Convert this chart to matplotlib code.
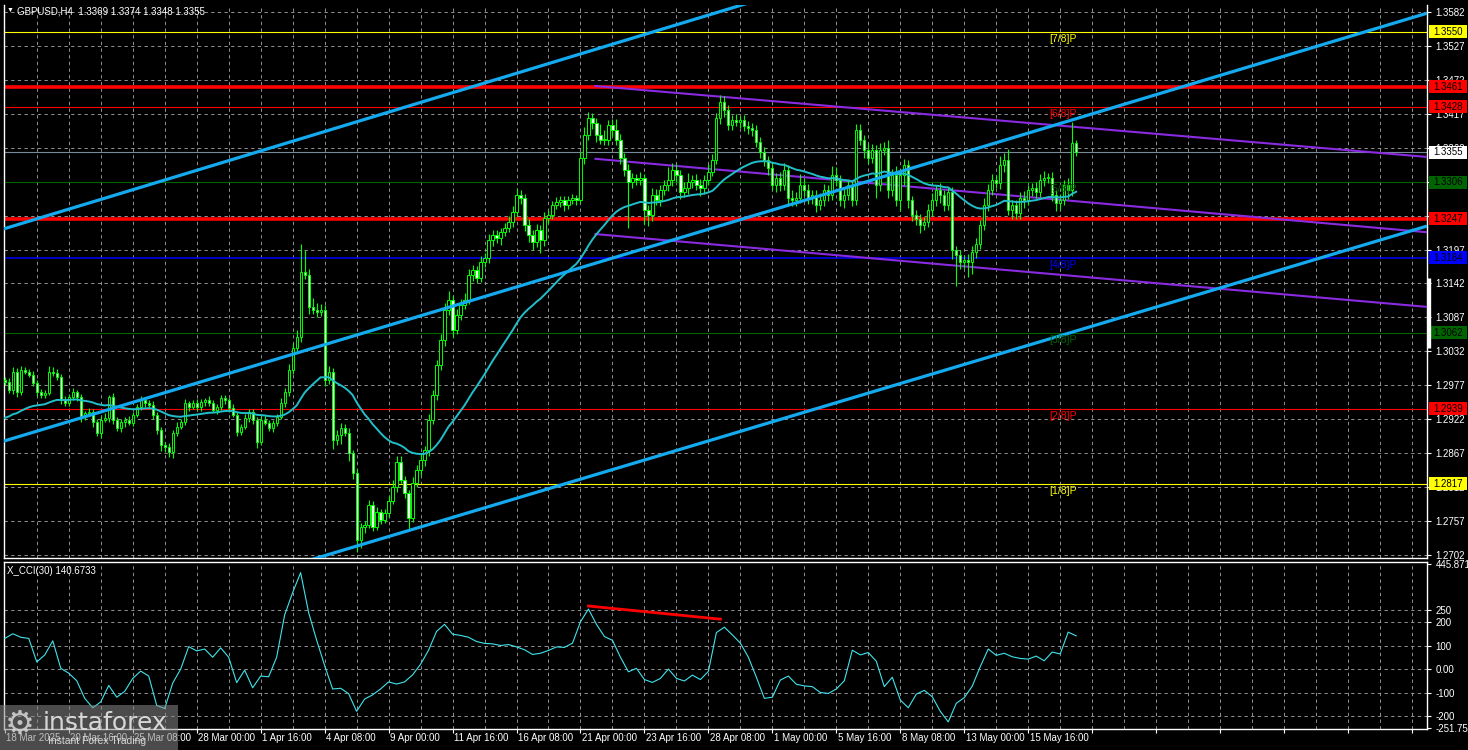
import numpy as np
import pandas as pd
import matplotlib
matplotlib.use("Agg")
import matplotlib.pyplot as plt
import matplotlib.transforms as mtransforms
from matplotlib.patches import Rectangle

plt.rcParams['font.family'] = ['Liberation Sans', 'DejaVu Sans']

# GBPUSD H4 closes, oldest first
closes = [
    1.2982, 1.2969, 1.2999, 1.2966, 1.3002, 1.2999, 1.2994, 1.2981, 1.2966, 1.2961,
    1.2965, 1.2999, 1.2997, 1.2991, 1.2953, 1.2948, 1.2958, 1.2966, 1.2958, 1.2926,
    1.2932, 1.2934, 1.2918, 1.2900, 1.2921, 1.2924, 1.2958, 1.2921, 1.2908, 1.2918,
    1.2921, 1.2916, 1.2929, 1.2942, 1.2953, 1.2948, 1.2945, 1.2929, 1.2904, 1.2880,
    1.2877, 1.2869, 1.2900, 1.2910, 1.2918, 1.2948, 1.2942, 1.2948, 1.2942, 1.2950,
    1.2953, 1.2948, 1.2937, 1.2942, 1.2956, 1.2953, 1.2940, 1.2929, 1.2901, 1.2910,
    1.2924, 1.2934, 1.2921, 1.2885, 1.2921, 1.2916, 1.2908, 1.2916, 1.2926, 1.2948,
    1.2966, 1.3002, 1.3037, 1.3055, 1.3161, 1.3156, 1.3104, 1.3099, 1.3096, 1.3099,
    1.2986, 1.2999, 1.2888, 1.2896, 1.2908, 1.2900, 1.2867, 1.2835, 1.2726, 1.2748,
    1.2751, 1.2783, 1.2748, 1.2772, 1.2759, 1.2770, 1.2790, 1.2812, 1.2853, 1.2824,
    1.2802, 1.2762, 1.2819, 1.2840, 1.2856, 1.2872, 1.2921, 1.2961, 1.3010, 1.3050,
    1.3099, 1.3115, 1.3067, 1.3091, 1.3107, 1.3115, 1.3156, 1.3164, 1.3151, 1.3177,
    1.3183, 1.3212, 1.3220, 1.3215, 1.3225, 1.3232, 1.3242, 1.3258, 1.3285, 1.3280,
    1.3237, 1.3220, 1.3209, 1.3229, 1.3212, 1.3248, 1.3253, 1.3269, 1.3274, 1.3277,
    1.3269, 1.3277, 1.3280, 1.3277, 1.3345, 1.3383, 1.3410, 1.3402, 1.3383, 1.3375,
    1.3375, 1.3399, 1.3391, 1.3375, 1.3345, 1.3326, 1.3307, 1.3313, 1.3310, 1.3313,
    1.3261, 1.3253, 1.3285, 1.3277, 1.3293, 1.3301, 1.3310, 1.3326, 1.3318, 1.3290,
    1.3296, 1.3307, 1.3310, 1.3301, 1.3296, 1.3310, 1.3323, 1.3342, 1.3410, 1.3436,
    1.3423, 1.3399, 1.3407, 1.3404, 1.3407, 1.3397, 1.3394, 1.3391, 1.3371, 1.3355,
    1.3342, 1.3329, 1.3301, 1.3313, 1.3301, 1.3326, 1.3280, 1.3277, 1.3280, 1.3301,
    1.3293, 1.3280, 1.3285, 1.3269, 1.3277, 1.3293, 1.3285, 1.3318, 1.3310, 1.3277,
    1.3285, 1.3301, 1.3277, 1.3391, 1.3375, 1.3358, 1.3345, 1.3358, 1.3301, 1.3358,
    1.3362, 1.3293, 1.3318, 1.3277, 1.3318, 1.3334, 1.3277, 1.3253, 1.3246, 1.3237,
    1.3242, 1.3261, 1.3277, 1.3293, 1.3285, 1.3269, 1.3290, 1.3196, 1.3188, 1.3177,
    1.3180, 1.3177, 1.3193, 1.3206, 1.3237, 1.3269, 1.3293, 1.3310, 1.3305, 1.3334,
    1.3342, 1.3261, 1.3269, 1.3256, 1.3280, 1.3277, 1.3293, 1.3296, 1.3290, 1.3310,
    1.3313, 1.3313, 1.3285, 1.3272, 1.3277, 1.3301, 1.3293, 1.3369, 1.3355,
]
first_open = 1.2986

# wick lengths in pips beyond the candle body
upper_wick = [
    5, 6, 8, 6, 7, 4, 5, 6, 4, 5,  4, 9, 8, 6, 4, 6, 5, 6, 4, 5,
    4, 6, 5, 4, 6, 8, 4, 6, 5, 4,  5, 6, 4, 5, 7, 4, 5, 6, 4, 5,
    5, 6, 4, 7, 5, 6, 4, 5, 6, 5,  4, 7, 5, 4, 6, 5, 4, 6, 5, 4,
    6, 5, 4, 5, 6, 7, 5, 4, 5, 8,  6, 10, 8, 12, 45, 35, 9, 14, 12, 10,
    8, 10, 6, 9, 8, 6, 7, 5, 6, 5,  6, 8, 6, 7, 5, 6, 7, 12, 10, 9,
    6, 6, 10, 8, 9, 7, 10, 9, 8, 10,  12, 14, 8, 10, 9, 12, 10, 8, 7, 9,
    8, 10, 8, 9, 7, 8, 9, 10, 12, 8,  7, 9, 8, 10, 7, 9, 8, 7, 8, 6,
    7, 6, 7, 5, 10, 12, 10, 9, 8, 18,  16, 8, 9, 18, 10, 8, 9, 8, 7, 9,
    6, 8, 12, 10, 9, 8, 20, 12, 9, 8,  10, 14, 8, 9, 10, 8, 12, 9, 8, 11,
    10, 9, 8, 10, 7, 8, 9, 8, 7, 9,  8, 7, 10, 8, 9, 12, 8, 14, 10, 18,
    12, 10, 9, 8, 12, 10, 9, 14, 12, 8,  10, 9, 7, 10, 9, 8, 12, 10, 8, 12,
    10, 12, 10, 14, 9, 10, 8, 7, 8, 9,  8, 10, 11, 9, 12, 8, 9, 8, 7, 9,
    8, 10, 9, 10, 8, 12, 10, 9, 8, 14,  12, 18, 9, 8, 10, 12, 9, 8, 10, 9,
    12, 8, 9, 8, 10, 9, 12, 35, 5,
]
lower_wick = [
    5, 4, 6, 8, 5, 4, 4, 6, 6, 5,  4, 4, 5, 6, 7, 5, 4, 5, 6, 8,
    6, 5, 9, 5, 8, 4, 6, 7, 5, 6,  8, 4, 5, 4, 5, 6, 5, 7, 6, 9,
    8, 9, 10, 5, 4, 5, 6, 4, 5, 7,  6, 5, 4, 6, 5, 7, 6, 4, 7, 5,
    4, 6, 7, 10, 5, 4, 5, 6, 5, 4,  6, 7, 6, 5, 8, 6, 12, 6, 8, 7,
    10, 7, 15, 8, 14, 6, 12, 10, 19, 12,  10, 6, 8, 5, 7, 6, 6, 5, 8, 6,
    8, 22, 6, 7, 8, 10, 9, 7, 8, 9,  10, 8, 12, 7, 8, 6, 7, 10, 8, 6,
    9, 8, 9, 7, 10, 6, 7, 8, 6, 9,  10, 11, 12, 8, 20, 9, 8, 7, 6, 8,
    9, 7, 6, 8, 5, 9, 8, 10, 12, 7,  8, 9, 10, 8, 9, 10, 75, 10, 8, 9,
    22, 18, 9, 8, 10, 8, 9, 10, 12, 11,  8, 9, 10, 8, 12, 9, 8, 7, 6, 9,
    12, 8, 9, 7, 10, 8, 9, 10, 8, 9,  10, 12, 8, 10, 9, 8, 12, 10, 9, 8,
    10, 9, 10, 12, 8, 10, 9, 8, 10, 9,  12, 8, 10, 8, 9, 12, 10, 8, 20, 9,
    8, 12, 10, 9, 18, 16, 12, 10, 9, 14,  9, 8, 10, 9, 12, 10, 8, 14, 50, 12,
    10, 25, 20, 10, 8, 9, 10, 8, 9, 10,  12, 8, 14, 10, 9, 12, 8, 10, 9, 8,
    10, 9, 10, 12, 9, 8, 14, 10, 7,
]

ma_seed = 1.2921  # smoothed MA(20) level at the first visible bar

# X_CCI(30), one value every second bar
cci = [
    130, 150, 135, 130, 30, 60, 120, 3, -18, -50,
    -125, -165, -140, -70, -120, -95, -40, -9, -30, -155,
    -168, -60, 0, 95, 77, 85, 50, 90, 50, -58,
    -5, -80, -30, -33, 50, 230, 325, 410, 240, 123,
    15, -85, -82, -105, -180, -128, -110, -85, -55, -64,
    -55, -25, 20, 80, 160, 190, 148, 143, 135, 117,
    109, 107, 100, 104, 94, 82, 62, 67, 79, 94,
    92, 110, 201, 255, 190, 138, 122, 50, -12, 3,
    -45, -57, -40, 0, -40, -51, -26, -45, -10, 155,
    178, 145, 110, 50, -35, -125, -120, -47, -30, -65,
    -72, -75, -100, -104, -85, -50, 80, 60, 70, 33,
    -75, -35, -132, -165, -107, -91, -118, -180, -225, -146,
    -122, -73, 10, 85, 58, 67, 52, 45, 42, 55,
    35, 72, 64, 157, 141,
]
cci_last = 140.6733

time_labels = ["18 Mar 2025", "20 Mar 16:00", "25 Mar 08:00", "28 Mar 00:00", "1 Apr 16:00",
               "4 Apr 08:00", "9 Apr 00:00", "11 Apr 16:00", "16 Apr 08:00", "21 Apr 00:00",
               "23 Apr 16:00", "28 Apr 08:00", "1 May 00:00", "5 May 16:00", "8 May 08:00",
               "13 May 00:00", "15 May 16:00"]
price_ticks = [1.3582, 1.3527, 1.3472, 1.3417, 1.3362, 1.3307, 1.3252, 1.3197, 1.3142,
               1.3087, 1.3032, 1.2977, 1.2922, 1.2867, 1.2812, 1.2757, 1.2702]
cci_grid = [250, 200, 100, 0, -100, -200]
cci_range = (445.8715, -251.7573)

level_prices = [1.3550, 1.3461, 1.3428, 1.3355, 1.3306, 1.3247, 1.3184, 1.3062, 1.2939, 1.2817]
murrey_names = ['[7/8]P', '[6/8]P', '[5/8]P', '[4/8]P', '[3/8]P', '[2/8]P', '[1/8]P']
murrey_prices = [1.3550, 1.3428, 1.3306, 1.3184, 1.3062, 1.2939, 1.2817]

# drawn objects, anchors as (bar, value)
blue_lines = [[(-1, 1.3229), (188.25, 1.3601)],
              [(-1, 1.2885), (355.75, 1.3580)],
              [(76.5, 1.2694), (355.75, 1.3235)]]
purple_lines = [[(147.75, 1.3462), (355.75, 1.3347)],
                [(147.75, 1.3344), (355.75, 1.3225)],
                [(147.75, 1.3222), (355.75, 1.3104)]]
divergence = [(146, 268), (179, 212)]

# styles
level_colors = ['#FFFF00', '#FF0000', '#FF0000', '#778899', '#006400', '#FF0000', '#0000FF', '#006400', '#FF0000', '#FFFF00']
level_widths = [0.8, 2.6, 0.8, 0.8, 0.8, 2.6, 1.1, 0.8, 0.8, 0.8]
box_colors = ['#FFFF00', '#FF0000', '#FF0000', '#FFFFFF', '#006400', '#FF0000', '#0000FF', '#006400', '#FF0000', '#FFFF00']
murrey_colors = ['#FFFF00', '#FF0000', '#006400', '#0000FF', '#006400', '#FF0000', '#FFFF00']
GRID = dict(color='#A8A8A8', lw=0.6, ls=(0, (4, 4)), zorder=1)
FS = 7

W, H = 1468, 750
fig = plt.figure(figsize=(W / 100, H / 100), dpi=100, facecolor='black')
ax = fig.add_axes([4 / W, 1 - 558 / H, 1423 / W, 553 / H], facecolor='black')
ax2 = fig.add_axes([4 / W, 1 - 729 / H, 1423 / W, 167 / H], facecolor='black')

n = len(closes)
x = np.arange(n)
c = np.array(closes)
o = np.r_[first_open, c[:-1]]
hi = np.maximum(o, c) + np.array(upper_wick) * 1e-4
lo = np.minimum(o, c) - np.array(lower_wick) * 1e-4

xmax = 355.75
ax.set_xlim(-0.2, xmax)
ax.set_ylim(1.26970, 1.35933)
ax2.set_xlim(-0.2, xmax)
ax2.set_ylim(-255.3, 455.3)

# grid
for b in range(8, 356, 8):
    ax.axvline(b, **GRID)
    ax2.axvline(b, **GRID)
for p in price_ticks:
    ax.axhline(p, **GRID)
for v in cci_grid:
    ax2.axhline(v, **GRID)

# horizontal levels
for p, col, lw in zip(level_prices, level_colors, level_widths):
    ax.axhline(p, color=col, lw=lw, zorder=2)

# channels
for (b0, p0), (b1, p1) in blue_lines:
    ax.plot([b0, b1], [p0, p1], color='#14AAF0', lw=2.3, zorder=6, solid_capstyle='butt')
for (b0, p0), (b1, p1) in purple_lines:
    ax.plot([b0, b1], [p0, p1], color='#8A2BE2', lw=1.5, zorder=3)

# candles
green = '#00FF00'
ax.vlines(x, lo, hi, color=green, lw=0.8, zorder=4)
bottom = np.minimum(o, c)
height = np.maximum(np.abs(c - o), 0.00008)
bull = c >= o
ax.bar(x[bull], height[bull], bottom=bottom[bull], width=0.55, color='black',
       edgecolor=green, linewidth=0.7, zorder=5)
ax.bar(x[~bull], height[~bull], bottom=bottom[~bull], width=0.55, color='#E8FFE8',
       edgecolor=green, linewidth=0.7, zorder=5)

# smoothed moving average
ma = pd.Series([ma_seed] + closes).ewm(alpha=1 / 20, adjust=False).mean().iloc[1:].to_numpy()
ax.plot(x, ma, color='#22BFCB', lw=1.4, zorder=5)

# Murrey labels
lab_off = mtransforms.offset_copy(ax.transData, fig=fig, y=-2, units='dots')
for name, p, col in zip(murrey_names, murrey_prices, murrey_colors):
    ax.text(264.75, p, name, transform=lab_off, ha='center', va='top', fontsize=7.5, color=col, zorder=7)

# price axis
ax.set_xticks([])
ax.yaxis.tick_right()
ax.set_yticks(price_ticks)
ax.set_yticklabels([f'{p:.4f}' for p in price_ticks])
ax.tick_params(axis='y', colors='white', labelsize=FS, length=3, pad=3, width=0.8)
for s in ['left', 'right', 'bottom']:
    ax.spines[s].set_color('white')
    ax.spines[s].set_linewidth(1)
ax.spines['top'].set_visible(False)

blend = mtransforms.blended_transform_factory(ax.transAxes, ax.transData)
bw = 38 / 1423
bh = 13 / 6170
for p, col in zip(level_prices, box_colors):
    ax.add_patch(Rectangle((1 + 1.5 / 1423, p - bh / 2), bw, bh, transform=blend,
                           facecolor=col, edgecolor='none', clip_on=False, zorder=8))
    ax.text(1 + 6 / 1423, p, f'{p:.4f}', transform=blend, ha='left', va='center',
            fontsize=FS, color='black', clip_on=False, zorder=9)
ax.plot([1.0015, 1.0015], [1.3151, 1.3037], transform=blend, color='white', lw=2.4,
        clip_on=False, solid_capstyle='butt', zorder=9)

# CCI panel
ax2.plot(np.arange(0, n, 2)[:len(cci)], cci, color='#3FE4EC', lw=0.8, zorder=4)
(db0, dv0), (db1, dv1) = divergence
ax2.plot([db0, db1], [dv0, dv1], color='#FF0000', lw=2.0, zorder=5)
ax2.yaxis.tick_right()
cci_ticks = [cci_range[0]] + cci_grid + [cci_range[1]]
cci_labels = [f'{cci_range[0]:.4f}'] + [('0.00' if v == 0 else str(v)) for v in cci_grid] + [f'{cci_range[1]:.4f}']
ax2.set_yticks(cci_ticks)
ax2.set_yticklabels(cci_labels)
ax2.tick_params(axis='y', colors='white', labelsize=FS, length=3, pad=3, width=0.8)
ax2.set_xticks(np.arange(0, 356, 16))
ax2.tick_params(axis='x', colors='white', length=3, width=0.8, labelbottom=False)
for s in ax2.spines.values():
    s.set_color('white')
    s.set_linewidth(1)

tblend = mtransforms.blended_transform_factory(ax2.transData, ax2.transAxes)
for k, lab in enumerate(time_labels):
    ax2.text(16 * k + 0.4, -0.055, lab, transform=tblend, ha='left', va='center',
             fontsize=FS, color='white', clip_on=False)

# captions
fig.text(7 / W, 1 - 10.5 / H, '\u25bc', fontsize=5, color='white', va='center', ha='left')
fig.text(17 / W, 1 - 11 / H, 'GBPUSD,H4  1.3369 1.3374 1.3348 1.3355', fontsize=FS,
         color='white', va='center', ha='left')
fig.text(7 / W, 1 - 571 / H, f'X_CCI(30) {cci_last:.4f}', fontsize=FS, color='white',
         va='center', ha='left')

# watermark
fig.add_artist(Rectangle((0, 0), 178 / W, 45 / H, transform=fig.transFigure,
                         facecolor='#8A8A8A', alpha=0.55, edgecolor='none', zorder=20))
fig.text(5 / W, 1 - 724 / H, '\u2699', fontsize=24, color='#D0D0D0', alpha=0.9,
         family='DejaVu Sans', va='center', ha='left', zorder=21)
fig.text(43 / W, 1 - 723 / H, 'instaforex', fontsize=18, color='#E6E6E6', alpha=0.9,
         family='DejaVu Sans', va='center', ha='left', zorder=21)
fig.text(48 / W, 1 - 741 / H, 'Instant Forex Trading', fontsize=7.5, color='#E6E6E6',
         alpha=0.9, va='center', ha='left', zorder=21)

fig.savefig('out.png', dpi=100, facecolor='black')
